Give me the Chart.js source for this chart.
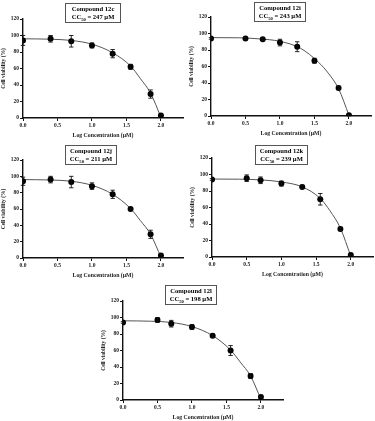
<!DOCTYPE html>
<html>
<head>
<meta charset="utf-8">
<script src="https://cdn.jsdelivr.net/npm/chart.js@4/dist/chart.umd.min.js"></script>
<style>
  html, body { margin: 0; padding: 0; background: #fff; }
  body { width: 375px; height: 421px; position: relative; overflow: hidden; }
  .panel { position: absolute; }
  .tag {
    position: absolute;
    box-sizing: border-box;
    border: 1px solid #555;
    background: #fff;
    font: bold 6.6px 'Liberation Serif', serif;
    line-height: 8px;
    text-align: center;
    color: #000;
    padding: 1px 0 1px;
    filter: grayscale(1);
  }
  .tag sub { font-size: 4.6px; vertical-align: -1.5px; line-height: 0; }
</style>
</head>
<body>
<script>
// ── Data ─────────────────────────────────────────────────────────
const NAMES = ['Compound 12c', 'Compound 12i', 'Compound 12j', 'Compound 12k', 'Compound 12l'];
const CC50 = [247, 243, 211, 239, 198];

const X_TICKS = [0, 0.5, 1, 1.5, 2];
const Y_TICKS = [0, 20, 40, 60, 80, 100, 120];

const X_12C = [0, 0.4, 0.7, 1.0, 1.3, 1.56, 1.85, 2.0];
const V_12C = [94, 96, 93, 88, 78, 62, 29, 3];
const E_12C = [6, 4, 7, 3, 5, 3, 5, 1];

const X_12I = [0, 0.5, 0.75, 1.0, 1.25, 1.5, 1.85, 2.0];
const V_12I = [94, 94, 93, 89, 84, 67, 34, 1];
const E_12I = [1, 1, 1.5, 4, 6, 3, 2, 1];

const X_12J = [0, 0.4, 0.7, 1.0, 1.3, 1.56, 1.85, 2.0];
const V_12J = [94, 96, 93, 88, 78, 60, 29, 3];
const E_12J = [5, 4, 7, 4, 5, 1, 5, 2];

const X_12K = [0, 0.5, 0.7, 1.0, 1.3, 1.56, 1.85, 2.0];
const V_12K = [94, 95.5, 93, 89, 85, 70, 34, 2.5];
const E_12K = [1, 4, 4, 3, 2, 7, 2, 1];

const X_12L = [0, 0.5, 0.7, 1.0, 1.3, 1.56, 1.85, 2.0];
const V_12L = [94, 97, 92.5, 88.5, 78, 60, 29, 3.5];
const E_12L = [1, 3, 4, 3, 2, 6, 3, 1];

// fitted curves
const CURVE_X = [0, 0.4, 0.7, 1.0, 1.3, 1.56, 1.7, 1.85, 2.0];
const CURVE_12C = [96, 95.5, 94, 89.5, 79, 63, 48, 30, 1];
const CURVE_12I = [95, 94.8, 93.5, 90.5, 82, 65, 52, 33, 1];
const CURVE_12J = [96, 95.5, 94, 89, 78, 60.5, 46, 29, 1];
const CURVE_12K = [94.5, 94.3, 93.5, 91, 85, 71, 56, 35, 1];
const CURVE_12L = [96, 95.5, 94, 89, 78, 60.5, 46, 29, 1];

const SERIES = [
  { x: X_12C, v: V_12C, e: E_12C, c: CURVE_12C },
  { x: X_12I, v: V_12I, e: E_12I, c: CURVE_12I },
  { x: X_12J, v: V_12J, e: E_12J, c: CURVE_12J },
  { x: X_12K, v: V_12K, e: E_12K, c: CURVE_12K },
  { x: X_12L, v: V_12L, e: E_12L, c: CURVE_12L }
];


// ── Layout (page px): y-axis x, plot top, plot bottom, axis end, title box ──
const LAYOUT = [
  { ax: 23,  top: 19,  bot: 117.5, end: 183, box: [65, 3, 56, 20] },
  { ax: 211, top: 17,  bot: 116,   end: 371, box: [254, 2, 52, 20] },
  { ax: 23,  top: 160, bot: 258,   end: 183, box: [65, 145, 52, 20] },
  { ax: 212, top: 158, bot: 257,   end: 373, box: [255, 145, 53, 20] },
  { ax: 123, top: 301, bot: 400,   end: 283, box: [165, 285, 52, 20] }
];

const AXIS_W = 23;
const AXIS_H = 21;
const PAD_R = 4;
const FONT = "'Liberation Serif', 'Times New Roman', serif";


// ── Error bars ───────────────────────────────────────────────────
const errorBars = {
  id: 'errorBars',
  afterDatasetsDraw(chart) {
    const ds = chart.data.datasets[1];
    const { x: xs, y: ys } = chart.scales;
    const ctx = chart.ctx;
    ctx.save();
    ctx.strokeStyle = '#111';
    ctx.lineWidth = 0.9;
    ds.data.forEach((d, i) => {
      const err = ds.errors[i];
      const px = xs.getPixelForValue(d.x);
      const hi = ys.getPixelForValue(d.y + err);
      const lo = ys.getPixelForValue(d.y - err);
      ctx.beginPath();
      ctx.moveTo(px, hi); ctx.lineTo(px, lo);
      ctx.moveTo(px - 2.2, hi); ctx.lineTo(px + 2.2, hi);
      ctx.moveTo(px - 2.2, lo); ctx.lineTo(px + 2.2, lo);
      ctx.stroke();
    });
    ctx.restore();
  }
};


// ── Charts ───────────────────────────────────────────────────────
function axisCommon(ticks, fmt) {
  return {
    type: 'linear',
    afterBuildTicks: s => { s.ticks = ticks.map(v => ({ value: v })); },
    border: { display: true, color: '#111', width: 1.4 },
    grid: { drawOnChartArea: false, drawTicks: true, tickLength: 3, color: '#111', lineWidth: 1 },
    ticks: {
      color: '#222',
      padding: 1,
      font: { family: FONT, size: 5.5, weight: 'bold' },
      callback: fmt
    }
  };
}

SERIES.forEach((s, i) => {
  const L = LAYOUT[i];
  const left = L.ax - AXIS_W;
  const top = L.top - 19;
  const width = Math.round(L.end - left + PAD_R);
  const height = Math.round(L.bot - top + AXIS_H);

  const wrap = document.createElement('div');
  wrap.className = 'panel';
  Object.assign(wrap.style, { left: left + 'px', top: top + 'px' });
  const canvas = document.createElement('canvas');
  canvas.width = width;
  canvas.height = height;
  canvas.style.width = width + 'px';
  canvas.style.height = height + 'px';
  wrap.appendChild(canvas);
  document.body.appendChild(wrap);

  const tag = document.createElement('div');
  tag.className = 'tag';
  const [bx, by, bw, bh] = L.box;
  Object.assign(tag.style, { left: bx + 'px', top: by + 'px', width: bw + 'px', height: bh + 'px' });
  tag.innerHTML = `${NAMES[i]}<br>CC<sub>50</sub> = ${CC50[i]} µM`;
  document.body.appendChild(tag);

  const xAxis = axisCommon(X_TICKS, v => Number(v).toFixed(1));
  Object.assign(xAxis, {
    min: 0, max: 2.32,
    afterFit: sc => { sc.height = AXIS_H; },
    title: {
      display: true, text: 'Log Concentration (µM)', color: '#222',
      padding: { top: 0, bottom: 0 },
      font: { family: FONT, size: 5.8, weight: 'bold' }
    }
  });

  const yAxis = axisCommon(Y_TICKS, v => String(v));
  Object.assign(yAxis, {
    min: 0, max: 120,
    afterFit: sc => { sc.width = AXIS_W; },
    title: {
      display: true, text: 'Cell viability (%)', color: '#222',
      padding: { top: 0, bottom: 1 },
      font: { family: FONT, size: 5.5, weight: 'bold' }
    }
  });

  new Chart(canvas, {
    type: 'scatter',
    data: {
      datasets: [
        {
          data: CURVE_X.map((x, k) => ({ x, y: s.c[k] })),
          showLine: true,
          cubicInterpolationMode: 'monotone',
          borderColor: '#555',
          borderWidth: 1,
          pointRadius: 0,
          order: 2
        },
        {
          data: s.x.map((x, k) => ({ x, y: s.v[k] })),
          errors: s.e,
          showLine: false,
          pointRadius: 3,
          pointBackgroundColor: '#000',
          pointBorderColor: '#000',
          pointBorderWidth: 0,
          order: 1
        }
      ]
    },
    options: {
      responsive: false,
      devicePixelRatio: 1,
      animation: false,
      layout: { padding: { top: 19, right: PAD_R, left: 0, bottom: 0 } },
      plugins: { legend: { display: false }, tooltip: { enabled: false } },
      scales: { x: xAxis, y: yAxis }
    },
    plugins: [errorBars]
  });
});
</script>
</body>
</html>
